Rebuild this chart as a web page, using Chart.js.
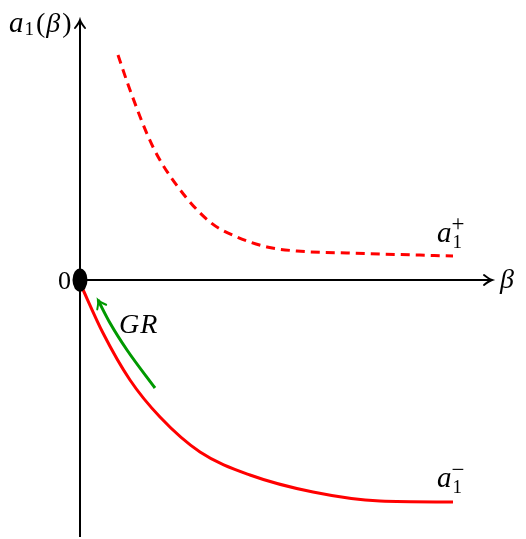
<!DOCTYPE html>
<html>
<head>
<meta charset="utf-8">
<script src="https://cdn.jsdelivr.net/npm/chart.js@4/dist/chart.umd.min.js"></script>
<style>
  html, body { margin: 0; padding: 0; background: #fff; }
  canvas { display: block; }
</style>
</head>
<body>
<canvas id="grafico" width="526" height="539"></canvas>
<script>
// dados (unidades arbitrárias, origem em beta = 0, a1 = 0)
const betaPlus = [0.38, 0.50, 0.73, 0.98, 1.30, 1.57, 1.87, 2.17, 2.67, 3.73];
const aPlus    = [2.25, 1.90, 1.33, 0.93, 0.58, 0.43, 0.33, 0.29, 0.27, 0.24];

const betaMinus = [0.00, 0.23, 0.50, 0.80, 1.20, 1.70, 2.33, 3.00, 3.73];
const aMinus    = [-0.03, -0.53, -1.00, -1.37, -1.72, -1.95, -2.12, -2.21, -2.22];

// seta GR (primeiro ponto = ponta da seta)
const betaGR = [0.18, 0.30, 0.47, 0.75];
const aGR    = [-0.20, -0.43, -0.70, -1.08];

// extensão dos eixos
const eixoX = [0, 4.12];
const eixoY = [-2.57, 2.60];

const pares = (xs, ys) => xs.map((x, i) => ({ x: x, y: ys[i] }));

const fonte = 'Liberation Serif, Times New Roman, serif';

// desenha pontas de seta, origem e rótulos
const extras = {
  id: 'extras',
  afterDatasetsDraw(chart) {
    const ctx = chart.ctx;
    const sx = chart.scales.x, sy = chart.scales.y;
    const px = v => sx.getPixelForValue(v);
    const py = v => sy.getPixelForValue(v);

    function ponta(x, y, ang, cor) {
      ctx.save();
      ctx.translate(x, y);
      ctx.rotate(ang);
      ctx.strokeStyle = cor;
      ctx.lineWidth = 2;
      ctx.lineCap = 'round';
      ctx.beginPath();
      ctx.moveTo(-8, -5);
      ctx.quadraticCurveTo(-3, -1, 0, 0);
      ctx.quadraticCurveTo(-3, 1, -8, 5);
      ctx.stroke();
      ctx.restore();
    }

    // setas dos eixos
    ponta(px(eixoX[1]), py(0), 0, '#000');
    ponta(px(0), py(eixoY[1]), -Math.PI / 2, '#000');

    // seta verde GR
    const gx0 = px(betaGR[0]), gy0 = py(aGR[0]);
    const gx1 = px(betaGR[1]), gy1 = py(aGR[1]);
    ponta(gx0, gy0, Math.atan2(gy0 - gy1, gx0 - gx1), '#009900');

    // origem
    ctx.save();
    ctx.fillStyle = '#000';
    ctx.beginPath();
    ctx.ellipse(px(0), py(0), 7.5, 11.5, 0, 0, Math.PI * 2);
    ctx.fill();
    ctx.restore();

    // rótulos
    ctx.save();
    ctx.fillStyle = '#000';
    ctx.textBaseline = 'alphabetic';
    ctx.textAlign = 'left';

    // escreve e devolve a posição x do fim do texto
    function escreve(txt, x, y, tam, italico) {
      ctx.font = (italico ? 'italic ' : '') + tam + 'px ' + fonte;
      ctx.fillText(txt, x, y);
      return x + ctx.measureText(txt).width;
    }

    // a1(beta)
    let x = escreve('a', 9, 32, 29, true);
    x = escreve('1', x + 1, 35, 19, false);
    x = escreve('(', x + 2, 32, 28, false);
    x = escreve('β', x + 1, 32, 28, true);
    escreve(')', x + 2, 32, 28, false);

    // 0
    ctx.textAlign = 'right';
    escreve('0', 71, 289, 26, false);
    ctx.textAlign = 'left';

    // beta
    escreve('β', 500, 288, 28, true);

    // GR
    x = escreve('G', 119, 333, 28, true);
    escreve('R', x + 1, 333, 28, true);

    // a1+
    x = escreve('a', 437, 242, 29, true);
    escreve('1', x + 1, 248, 19, false);
    escreve('+', x, 231, 23, false);

    // a1-
    x = escreve('a', 437, 487, 29, true);
    escreve('1', x + 1, 493, 19, false);
    escreve('\u2212', x, 477, 23, false);

    ctx.restore();
  }
};

new Chart(document.getElementById('grafico'), {
  type: 'line',
  data: {
    datasets: [
      { // eixo x
        data: pares(eixoX, [0, 0]),
        borderColor: '#000', borderWidth: 2, pointRadius: 0, tension: 0
      },
      { // eixo y
        data: pares([0, 0], eixoY),
        borderColor: '#000', borderWidth: 2, pointRadius: 0, tension: 0
      },
      { // a1+
        data: pares(betaPlus, aPlus),
        borderColor: '#ff0000', borderWidth: 3, borderDash: [9, 6],
        pointRadius: 0, cubicInterpolationMode: 'monotone'
      },
      { // a1-
        data: pares(betaMinus, aMinus),
        borderColor: '#ff0000', borderWidth: 3,
        pointRadius: 0, cubicInterpolationMode: 'monotone'
      },
      { // GR
        data: pares(betaGR, aGR),
        borderColor: '#009900', borderWidth: 3,
        pointRadius: 0, cubicInterpolationMode: 'monotone'
      }
    ]
  },
  options: {
    responsive: false,
    animation: false,
    layout: { padding: 0 },
    plugins: { legend: { display: false }, tooltip: { enabled: false } },
    scales: {
      x: { type: 'linear', min: -0.80, max: 4.46, display: false },
      y: { type: 'linear', min: -2.59, max: 2.80, display: false }
    }
  },
  plugins: [extras]
});
</script>
</body>
</html>
